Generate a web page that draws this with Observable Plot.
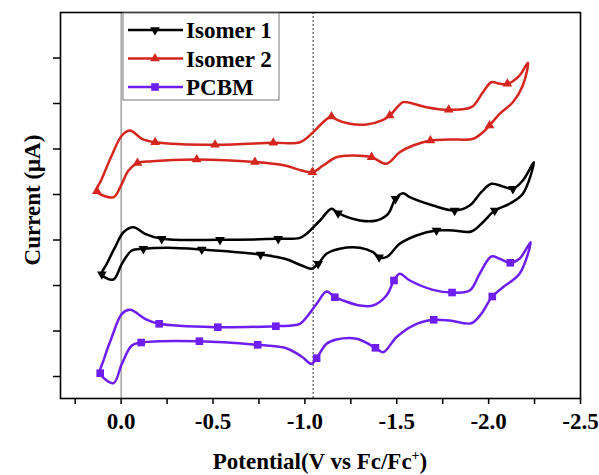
<!DOCTYPE html>
<html>
<head>
<meta charset="utf-8">
<script src="https://cdn.jsdelivr.net/npm/d3@7"></script>
<script src="https://cdn.jsdelivr.net/npm/@observablehq/plot@0.6"></script>
<style>
  html, body { margin: 0; padding: 0; background: #fff; }
  #chart { width: 599px; height: 475px; }
</style>
</head>
<body>
<div id="chart"></div>
<script>
// ---- Data (potential in V vs Fc/Fc+, current in arbitrary offset units) ----
const seriesNames = ["Isomer 1", "Isomer 2", "PCBM"];

const iso1V = [0.105,0.042,-0.004,-0.058,-0.121,-0.257,-0.439,-0.759,-0.891,-0.982,-1.036,-1.072,-1.118,-1.190,-1.299,-1.371,-1.404,-1.444,-1.516,-1.607,-1.716,-1.806,-1.906,-1.969,-2.033,-2.114,-2.186,-2.246,-2.186,-2.132,-2.078,-2.015,-1.960,-1.897,-1.815,-1.697,-1.571,-1.534,-1.493,-1.453,-1.390,-1.299,-1.181,-1.145,-1.082,-1.009,-0.973,-0.855,-0.538,-0.221,-0.130,-0.067,-0.013,0.033,0.078];
const iso1I = [2.248,2.132,2.477,2.769,2.807,2.829,2.791,2.681,2.587,2.440,2.367,2.477,2.697,2.807,2.829,2.732,2.622,2.622,2.916,3.099,3.209,3.209,3.187,3.391,3.648,3.796,4.015,4.710,4.308,4.125,4.176,4.235,4.051,3.758,3.648,3.758,3.941,4.029,3.905,3.576,3.429,3.429,3.589,3.686,3.429,3.136,3.048,3.026,3.004,3.026,3.136,3.281,3.171,2.842,2.477];
const iso1Markers = [0,4,6,7,11,16,20,24,29,34,38,42,47,48,49];

const iso2V = [0.132,0.042,0.005,-0.040,-0.089,-0.167,-0.411,-0.728,-0.891,-0.982,-1.041,-1.099,-1.172,-1.262,-1.363,-1.444,-1.516,-1.589,-1.683,-1.788,-1.915,-1.969,-2.005,-2.060,-2.132,-2.186,-2.214,-2.168,-2.102,-2.060,-2.015,-1.969,-1.906,-1.783,-1.661,-1.571,-1.534,-1.462,-1.426,-1.335,-1.245,-1.172,-1.145,-1.099,-1.045,-0.973,-0.828,-0.511,-0.185,-0.113,-0.049,-0.004,0.051,0.105];
const iso2I = [4.073,3.941,4.160,4.527,4.692,4.732,4.769,4.714,4.637,4.527,4.490,4.637,4.820,4.857,4.820,4.675,4.930,5.077,5.187,5.209,5.224,5.369,5.516,5.774,6.029,6.396,6.895,6.615,6.433,6.433,6.468,6.248,5.919,5.862,5.919,6.015,6.029,5.736,5.642,5.538,5.554,5.648,5.714,5.589,5.369,5.149,5.136,5.092,5.149,5.224,5.407,5.297,4.857,4.345];
const iso2Markers = [0,4,6,7,10,14,18,22,28,33,37,42,46,47,48];

const pcbmV = [0.114,0.042,-0.004,-0.058,-0.109,-0.426,-0.743,-0.891,-0.982,-1.036,-1.064,-1.118,-1.172,-1.281,-1.384,-1.426,-1.498,-1.589,-1.701,-1.788,-1.906,-1.960,-2.020,-2.078,-2.168,-2.228,-2.168,-2.118,-2.060,-2.015,-1.951,-1.897,-1.801,-1.697,-1.571,-1.516,-1.485,-1.444,-1.371,-1.299,-1.208,-1.163,-1.118,-1.064,-1.009,-0.973,-0.928,-0.842,-0.526,-0.207,-0.130,-0.049,-0.004,0.051,0.096];
const pcbmI = [0.073,-0.147,0.279,0.681,0.747,0.776,0.697,0.631,0.44,0.279,0.402,0.719,0.813,0.829,0.631,0.534,0.864,1.121,1.246,1.231,1.171,1.378,1.758,1.963,2.257,2.952,2.587,2.499,2.587,2.637,2.257,1.890,1.846,1.905,2.110,2.257,2.110,1.780,1.560,1.560,1.670,1.743,1.868,1.598,1.303,1.158,1.121,1.105,1.084,1.158,1.268,1.466,1.378,0.864,0.352];
const pcbmMarkers = [0,4,5,6,10,14,18,22,27,32,36,41,47,48,49];

const xMajorTicks = [0, -0.5, -1.0, -1.5, -2.0, -2.5];
const xMinorTicks = [0.25, -0.25, -0.75, -1.25, -1.75, -2.25];
const yTicks = [0, 1, 2, 3, 4, 5, 6, 7];
const refLines = [0];          // solid grey line at 0 V
const halfWaveLine = [-1.045]; // dotted line

// ---- Styling ----
const colors = {"Isomer 1": "#000000", "Isomer 2": "#d4261e", "PCBM": "#6e1ef0"};
const symbols = {"Isomer 1": {symbol: "triangle", rotate: 180, r: 3.6},
                 "Isomer 2": {symbol: "triangle", rotate: 0, r: 3.6},
                 "PCBM": {symbol: "square", rotate: 0, r: 4.3}};

function rows(name, V, I) {
  return V.map((v, k) => ({series: name, v, i: I[k], idx: k}));
}
const data = {
  "Isomer 1": {rows: rows("Isomer 1", iso1V, iso1I), markers: iso1Markers},
  "Isomer 2": {rows: rows("Isomer 2", iso2V, iso2I), markers: iso2Markers},
  "PCBM": {rows: rows("PCBM", pcbmV, pcbmI), markers: pcbmMarkers}
};

const marks = [
  Plot.ruleX(refLines, {stroke: "#777", strokeWidth: 1}),
  Plot.ruleX(halfWaveLine, {stroke: "#555", strokeWidth: 1.2, strokeDasharray: "2,2"}),
  Plot.axisX({ticks: xMajorTicks, tickFormat: d => d.toFixed(1), tickSize: 6, tickPadding: 8, label: null, strokeWidth: 1.5, fontSize: 23, fontWeight: "bold"}),
  Plot.axisX({ticks: xMinorTicks, tickFormat: () => "", tickSize: 6, label: null, strokeWidth: 1.5}),
  Plot.axisY({ticks: yTicks, tickFormat: () => "", tickSize: 7, label: null, strokeWidth: 1.5})
];
for (const name of seriesNames) {
  const d = data[name];
  marks.push(Plot.line(d.rows, {x: "v", y: "i", stroke: colors[name], strokeWidth: 2.5, curve: "catmull-rom-closed"}));
  const s = symbols[name];
  marks.push(Plot.dot(d.rows.filter(r => d.markers.includes(r.idx)), {
    x: "v", y: "i", fill: colors[name], stroke: "none", symbol: s.symbol, rotate: s.rotate, r: s.r
  }));
}
marks.push(Plot.frame({stroke: "#000", strokeWidth: 1.6}));

const svg = Plot.plot({
  width: 599,
  height: 475,
  marginLeft: 60,
  marginRight: 19,
  marginTop: 12,
  marginBottom: 77,
  x: {domain: [0.33, -2.5]},
  y: {domain: [-0.483, 8.0]},
  style: {fontFamily: "'Liberation Serif', 'Times New Roman', serif", fontWeight: "bold", fontSize: "23px", color: "#000", background: "#fff"},
  marks
});

// ---- Axis titles and in-plot legend ----
const s = d3.select(svg);
const font = "'Liberation Serif', 'Times New Roman', serif";

const xt = s.append("text")
  .attr("x", 320).attr("y", 469)
  .attr("text-anchor", "middle")
  .style("font-family", font).style("font-weight", "bold").style("font-size", "23px")
  .attr("fill", "#000");
xt.append("tspan").text("Potential(V vs Fc/Fc");
xt.append("tspan").attr("dy", -9).style("font-size", "14px").text("+");
xt.append("tspan").attr("dy", 9).text(")");

s.append("text")
  .attr("transform", "translate(40,200) rotate(-90)")
  .attr("text-anchor", "middle")
  .style("font-family", font).style("font-weight", "bold").style("font-size", "23px")
  .attr("fill", "#000")
  .text("Current (μA)");

const lg = s.append("g");
lg.append("rect").attr("x", 123).attr("y", 13).attr("width", 156).attr("height", 87)
  .attr("fill", "#fff").attr("stroke", "#777").attr("stroke-width", 1);
seriesNames.forEach((name, k) => {
  const cy = 30 + k * 28.5;
  lg.append("line").attr("x1", 128).attr("x2", 183).attr("y1", cy).attr("y2", cy)
    .attr("stroke", colors[name]).attr("stroke-width", 2.6);
  const sym = symbols[name];
  const type = sym.symbol === "square" ? d3.symbolSquare : d3.symbolTriangle;
  const size = Math.PI * sym.r * sym.r;
  lg.append("path").attr("d", d3.symbol(type, size)())
    .attr("transform", `translate(155,${cy}) rotate(${sym.rotate})`)
    .attr("fill", colors[name]);
  lg.append("text").attr("x", 186).attr("y", cy + 8)
    .attr("text-anchor", "start")
    .style("font-family", font).style("font-weight", "bold").style("font-size", "23px")
    .attr("fill", "#000").text(name);
});

document.getElementById("chart").appendChild(svg);
</script>
</body>
</html>
